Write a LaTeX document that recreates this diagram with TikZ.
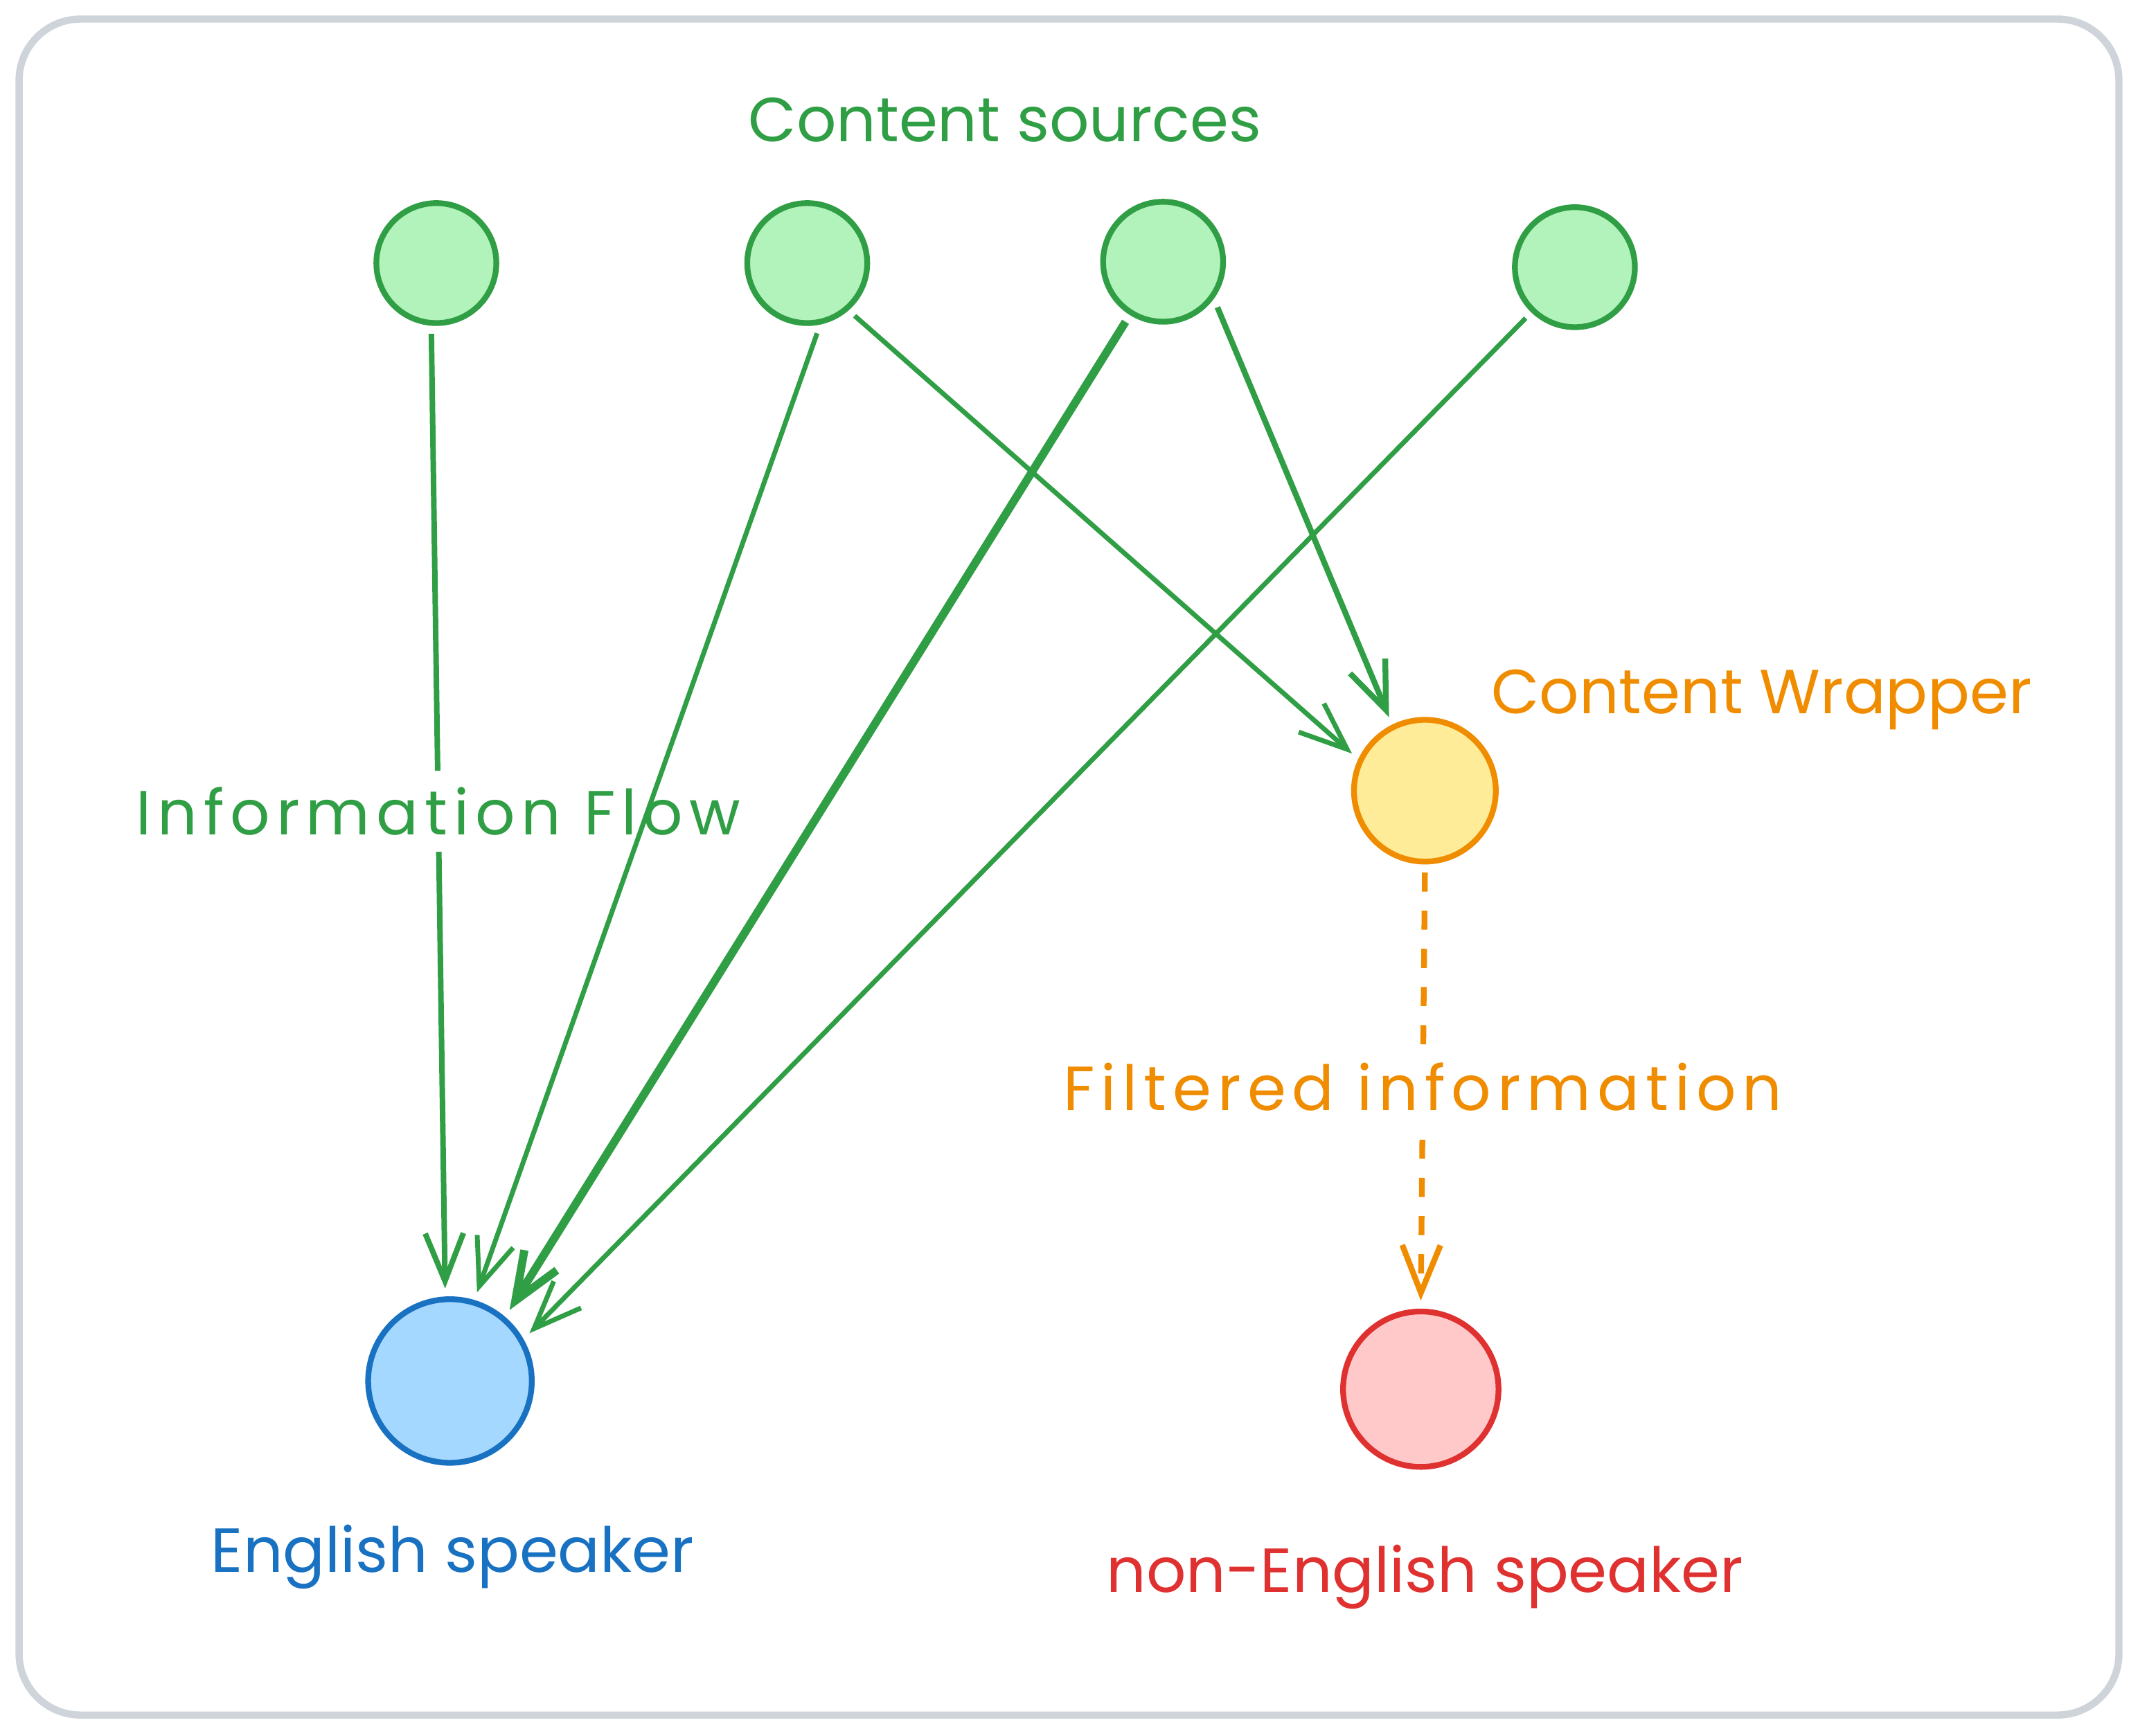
\documentclass[tikz,border=0pt]{standalone}
\usepackage{fontspec}
\setmainfont{Poppins}
\usepackage{xcolor}
\usetikzlibrary{arrows.meta,calc}
\definecolor{srcgreen}{HTML}{2F9E44}
\definecolor{srcfill}{HTML}{B2F2BB}
\definecolor{wraporange}{HTML}{F08C00}
\definecolor{wrapfill}{HTML}{FFEC99}
\definecolor{engblue}{HTML}{1971C2}
\definecolor{engfill}{HTML}{A5D8FF}
\definecolor{nonred}{HTML}{E03131}
\definecolor{nonfill}{HTML}{FFC9C9}
\definecolor{framegray}{HTML}{CED4DA}

\tikzset{
	dot/.style={circle,line width=1.2pt,inner sep=0pt,outer sep=0.8mm},
	source/.style={dot,draw=srcgreen,fill=srcfill,minimum size=0.88cm},
	flow/.style={draw=srcgreen,line width=1pt,-{Straight Barb[length=3.5mm,width=2.8mm]}},
	lbl/.style={font=\fontsize{13}{15}\selectfont,inner sep=1pt},
	widelbl/.style={font=\fontsize{13}{15}\selectfont\addfontfeature{LetterSpace=10},inner sep=1pt},
}

\begin{document}
\begin{tikzpicture}
	\useasboundingbox (0,0) rectangle (15.68,12.73);
	\draw[framegray,line width=1.5pt,rounded corners=0.45cm] (0.14,0.15) rectangle (15.54,12.59);

	% content sources
	\node[lbl,text=srcgreen] (srclbl) at (7.37,11.85) {Content sources};
	\node[source] (c1) at (3.20,10.80) {};
	\node[source] (c2) at (5.92,10.80) {};
	\node[source] (c3) at (8.53,10.81) {};
	\node[source] (c4) at (11.55,10.77) {};

	% wrapper and readers
	\node[dot,draw=wraporange,fill=wrapfill,minimum size=1.04cm] (w) at (10.45,6.93) {};
	\node[lbl,text=wraporange] (wraplbl) at (12.92,7.60) {Content Wrapper};
	\node[dot,draw=engblue,fill=engfill,minimum size=1.20cm] (e) at (3.30,2.60) {};
	\node[lbl,text=engblue] (englbl) at (3.32,1.31) {English speaker};
	\node[dot,draw=nonred,fill=nonfill,minimum size=1.14cm] (n) at (10.42,2.54) {};
	\node[lbl,text=nonred] (nonlbl) at (10.45,1.16) {non-English speaker};

	% flows
	\draw[flow,line width=1.15pt] (c1.-94) -- node[widelbl,text=srcgreen,fill=white,inner ysep=0.12cm] (flowlbl) {Information Flow} (e.93);
	\draw[flow] (c2.-82) -- (e.73);
	\draw[flow] (c2.-48) -- (w.153);
	\draw[flow,line width=1.7pt] (c3.-122) -- (e.50);
	\draw[flow,line width=1.2pt] (c3.-40) -- (w.116);
	\draw[flow] (c4.-134) -- (e.31);
	\draw[wraporange,line width=1.2pt,dash pattern=on 1.4mm off 1.4mm,-{Straight Barb[length=3.5mm,width=2.8mm]}] (w.-90) -- node[widelbl,text=wraporange,fill=white,inner ysep=0.12cm] (filtlbl) {Filtered information} (n.90);
\end{tikzpicture}
\end{document}
